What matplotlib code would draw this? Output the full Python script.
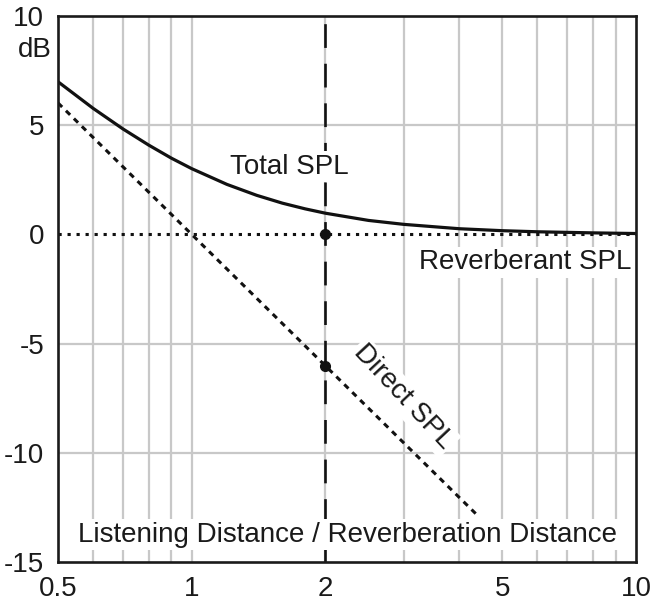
import matplotlib
matplotlib.use("Agg")
import matplotlib.pyplot as plt
from matplotlib.ticker import FixedLocator, NullFormatter

plt.rcParams['font.family'] = ['Liberation Sans', 'DejaVu Sans']

# ---- data ----
total_x = [0.5, 0.6, 0.7, 0.8, 0.9, 1.0, 1.2, 1.4, 1.6, 1.8, 2.0, 2.5, 3.0, 4.0, 5.0, 6.0, 8.0, 10.0]
total_y = [6.99, 5.77, 4.83, 4.09, 3.49, 3.01, 2.29, 1.79, 1.43, 1.17, 0.97, 0.64, 0.46, 0.26, 0.17, 0.12, 0.07, 0.04]
direct_x = [0.5, 4.4]
direct_y = [6.02, -12.87]
reverb_x = [0.5, 10.0]
reverb_y = [0.0, 0.0]
marker_x = [2.0, 2.0]
marker_y = [0.0, -6.02]
critical_x = 2.0

xticks = [0.5, 1, 2, 5, 10]
xticklabels = ["0.5", "1", "2", "5", "10"]
xgrid = [0.6, 0.7, 0.8, 0.9, 1, 2, 3, 4, 5, 6, 7, 8, 9]
yticks = [-15, -10, -5, 0, 5, 10]
yticklabels = ["-15", "-10", "-5", "0", "5", "10"]
ygrid = [-10, -5, 5]

FS = 20
W, H = 652, 601
fig = plt.figure(figsize=(W / 100, H / 100), dpi=100)
ax = fig.add_axes([58 / W, (H - 562) / H, (636 - 58) / W, (562 - 16) / H])
ax.set_xscale('log')
ax.set_xlim(0.5, 10)
ax.set_ylim(-15, 10)

gc = '#c8c8c8'
for g in xgrid:
    ax.axvline(g, color=gc, lw=1.6, zorder=1)
for g in ygrid:
    ax.axhline(g, color=gc, lw=1.6, zorder=1)

ax.xaxis.set_major_locator(FixedLocator(xticks))
ax.xaxis.set_minor_locator(FixedLocator([]))
ax.xaxis.set_minor_formatter(NullFormatter())
ax.set_xticklabels(xticklabels)
ax.set_yticks(yticks)
ax.set_yticklabels(yticklabels)
ax.tick_params(axis='both', length=0, labelsize=FS, colors='#1a1a1a')
ax.tick_params(axis='x', pad=10)
ax.tick_params(axis='y', pad=10)

for s in ax.spines.values():
    s.set_linewidth(1.9)
    s.set_color('#1a1a1a')
    s.set_zorder(10)

# vertical dashed line at critical distance
ax.axvline(critical_x, color='#111111', lw=1.9, dashes=(9, 6), zorder=4)

# lines
ax.plot(reverb_x, reverb_y, color='#111111', lw=2.2, dashes=(1.05, 1.9),
        zorder=5)
ax.plot(direct_x, direct_y, color='#111111', lw=2.2, dashes=(1.9, 1.75), zorder=5)
ax.plot(total_x, total_y, color='#111111', lw=2.3, zorder=6, solid_capstyle='butt')
ax.plot(marker_x, marker_y, 'o', color='#111111', ms=7, zorder=7)

bb = dict(boxstyle='square,pad=0.1', fc='white', ec='none')
ax.text(1.66, 3.1, "Total SPL", fontsize=FS, ha='center', va='center',
        color='#1a1a1a', bbox=bb, zorder=8)
ax.text(9.75, -1.28, "Reverberant SPL", fontsize=FS, ha='right', va='center',
        color='#1a1a1a', bbox=bb, zorder=8)
ax.text(2.99, -7.45, "Direct SPL", fontsize=FS, ha='center', va='center',
        rotation=-47, rotation_mode='anchor', color='#1a1a1a', bbox=bb, zorder=8)
ax.text(2.24, -13.75, "Listening Distance / Reverberation Distance", fontsize=FS,
        ha='center', va='center', color='#1a1a1a', bbox=bb, zorder=8)

# unit label under the top tick label
fig.text(52 / W, 1 - 50 / H, "dB", fontsize=FS, ha='right', va='center', color='#1a1a1a')

fig.savefig("out.png", dpi=100)
